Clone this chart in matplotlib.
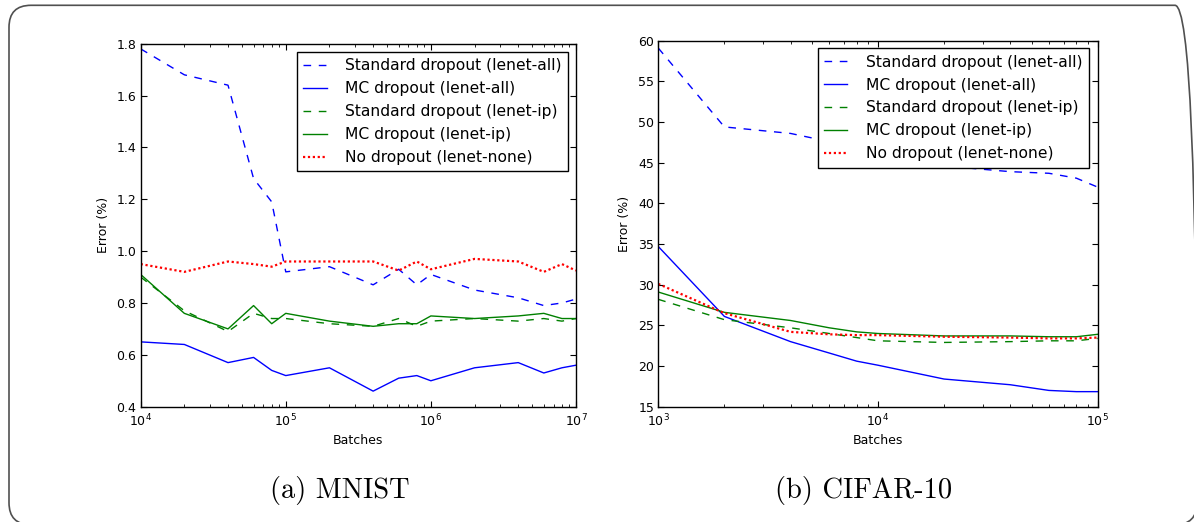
import numpy as np
import matplotlib
matplotlib.use("Agg")
import matplotlib.pyplot as plt
from matplotlib.patches import FancyBboxPatch

plt.rcParams['font.family'] = ['DejaVu Sans']
plt.rcParams['xtick.direction'] = 'in'
plt.rcParams['ytick.direction'] = 'in'
plt.rcParams['xtick.top'] = True
plt.rcParams['ytick.right'] = True
plt.rcParams['xtick.major.size'] = 4
plt.rcParams['ytick.major.size'] = 4
plt.rcParams['xtick.minor.size'] = 2
plt.rcParams['ytick.minor.size'] = 2
plt.rcParams['axes.linewidth'] = 1.0

# MNIST
mnist_batches = [1e4, 2e4, 4e4, 6e4, 8e4, 1e5, 2e5, 4e5, 6e5, 8e5,
                 1e6, 2e6, 4e6, 6e6, 8e6, 1e7]
mnist_std_all = [1.78, 1.68, 1.64, 1.28, 1.19, 0.92, 0.94, 0.87, 0.93, 0.87,
                 0.91, 0.85, 0.82, 0.79, 0.80, 0.815]
mnist_mc_all = [0.65, 0.64, 0.57, 0.59, 0.54, 0.52, 0.55, 0.46, 0.51, 0.52,
                0.50, 0.55, 0.57, 0.53, 0.55, 0.56]
mnist_std_ip = [0.90, 0.77, 0.69, 0.76, 0.74, 0.74, 0.72, 0.71, 0.74, 0.71,
                0.73, 0.74, 0.73, 0.74, 0.73, 0.74]
mnist_mc_ip = [0.91, 0.76, 0.70, 0.79, 0.72, 0.76, 0.73, 0.71, 0.72, 0.72,
               0.75, 0.74, 0.75, 0.76, 0.74, 0.74]
mnist_none = [0.95, 0.92, 0.96, 0.95, 0.94, 0.96, 0.96, 0.96, 0.925, 0.96,
              0.93, 0.97, 0.96, 0.92, 0.95, 0.925]

# CIFAR-10
cifar_batches = [1e3, 2e3, 4e3, 6e3, 8e3, 1e4, 2e4, 4e4, 6e4, 8e4, 1e5]
cifar_std_all = [59.1, 49.4, 48.6, 47.6, 46.6, 45.8, 44.6, 43.9, 43.7, 43.1, 42.0]
cifar_mc_all = [34.7, 26.1, 23.0, 21.6, 20.6, 20.1, 18.4, 17.7, 17.0, 16.85, 16.85]
cifar_std_ip = [28.2, 25.7, 24.7, 24.0, 23.5, 23.1, 22.9, 23.0, 23.1, 23.1, 23.4]
cifar_mc_ip = [29.1, 26.6, 25.6, 24.7, 24.2, 24.0, 23.7, 23.7, 23.6, 23.6, 23.9]
cifar_none = [30.1, 26.5, 24.2, 23.9, 23.8, 23.8, 23.6, 23.5, 23.4, 23.4, 23.5]

labels = ["Standard dropout (lenet-all)", "MC dropout (lenet-all)",
          "Standard dropout (lenet-ip)", "MC dropout (lenet-ip)",
          "No dropout (lenet-none)"]
dashed = (0, (5.5, 5.5))
dotted = (0, (1, 1.2))


def plot_panel(ax, x, series, ylim, yticks, leg_anchor):
    styles = [("#0000ff", dashed, 1.0), ("#0000ff", "-", 1.0),
              ("#008000", dashed, 1.0), ("#008000", "-", 1.0),
              ("#ff0000", dotted, 1.6)]
    for y, (c, ls, lw), lab in zip(series, styles, labels):
        ax.plot(x, y, color=c, linestyle=ls, linewidth=lw, label=lab)
    ax.set_xscale("log")
    ax.set_xlim(x[0], x[-1])
    ax.set_ylim(*ylim)
    ax.set_yticks(yticks)
    ax.tick_params(labelsize=9, pad=3)
    ax.tick_params(axis="x", pad=4)
    ax.set_xlabel("Batches", fontsize=9, labelpad=4)
    ax.set_ylabel("Error (%)", fontsize=9, labelpad=5)
    leg = ax.legend(loc="upper right", bbox_to_anchor=leg_anchor,
                    borderaxespad=0, fontsize=11.2, fancybox=False,
                    framealpha=1, edgecolor="black", handlelength=1.5,
                    handletextpad=1.2, labelspacing=0.51, borderpad=0.4)
    leg.get_frame().set_linewidth(1.0)


fig = plt.figure(figsize=(11.94, 5.22), dpi=100, facecolor="white")
ax1 = fig.add_axes([0.1178, 0.2209, 0.3646, 0.6954])
ax2 = fig.add_axes([0.5513, 0.2209, 0.3680, 0.7011])

plot_panel(ax1, mnist_batches,
           [mnist_std_all, mnist_mc_all, mnist_std_ip, mnist_mc_ip, mnist_none],
           (0.4, 1.8), np.arange(0.4, 1.81, 0.2), (0.982, 0.977))
ax1.set_yticklabels([f"{v:.1f}" for v in np.arange(0.4, 1.81, 0.2)])
plot_panel(ax2, cifar_batches,
           [cifar_std_all, cifar_mc_all, cifar_std_ip, cifar_mc_ip, cifar_none],
           (15, 60), np.arange(15, 61, 5), (0.980, 0.979))

fig.text(0.285, 0.046, "(a) MNIST", family="cmr10", fontsize=20.5, ha="center")
fig.text(0.723, 0.046, "(b) CIFAR-10", family="cmr10", fontsize=20.5, ha="center")

# rounded frame around the whole figure
box = FancyBboxPatch((0.09, -0.027), 11.88, 5.194,
                     boxstyle="round,pad=0,rounding_size=0.22",
                     transform=fig.dpi_scale_trans, facecolor="none",
                     edgecolor="#505050", linewidth=1.2, clip_on=False)
fig.add_artist(box)

plt.savefig("out.png", dpi=100, facecolor="white")
